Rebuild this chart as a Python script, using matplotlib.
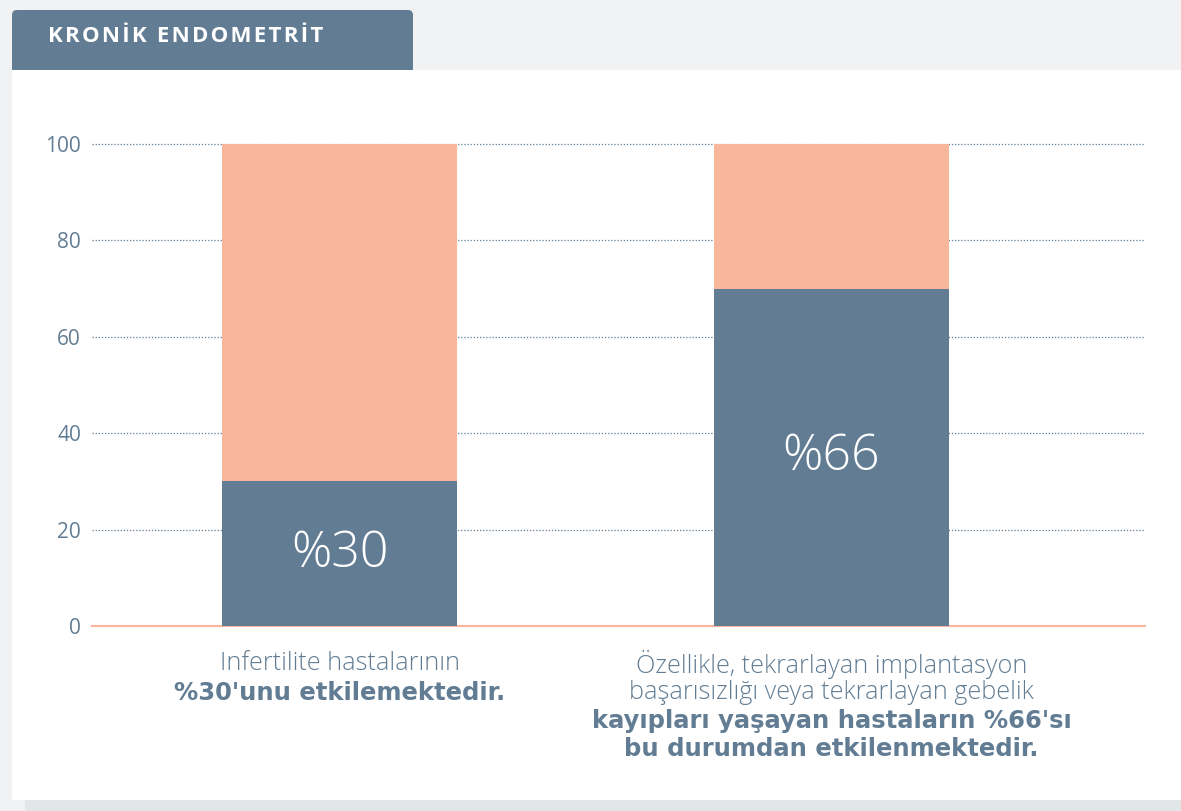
import matplotlib.pyplot as plt
from matplotlib.patches import Rectangle, FancyBboxPatch
from matplotlib.transforms import IdentityTransform

# ==================== DATA ====================
positions = [0, 1]
blue_values = [30, 70]        # drawn height of the blue segment
total_values = [100, 100]     # orange segment reaches 100
bar_labels = ["%30", "%66"]
y_ticks = [0, 20, 40, 60, 80, 100]

caption_light = [["Infertilite hastalarının"],
                 ["Özellikle, tekrarlayan implantasyon",
                  "başarısızlığı veya tekrarlayan gebelik"]]
caption_bold = [["%30'unu etkilemektedir."],
                ["kayıpları yaşayan hastaların %66'sı",
                 "bu durumdan etkilenmektedir."]]
title = "KRONİK ENDOMETRİT"

BLUE = "#627d93"
ORANGE = "#f8b79a"
BG = "#f1f2f4"
# ===============================================

plt.rcParams['font.family'] = ['Open Sans', 'DejaVu Sans']

W, H = 1181, 811
fig = plt.figure(figsize=(W / 100, H / 100), dpi=100, facecolor=BG)

# white panel + bottom strip + title tab (pixel coords, origin bottom-left)
pix = IdentityTransform()
fig.patches.append(Rectangle((12, H - 800), W - 12, 730, transform=pix,
                             facecolor="white", edgecolor="none", zorder=-2))
fig.patches.append(Rectangle((25, 0), W - 25, H - 800, transform=pix,
                             facecolor="#e2e6e6", edgecolor="none", zorder=-2))
fig.patches.append(FancyBboxPatch((12, H - 70), 401, 60, transform=pix,
                                  boxstyle="round,pad=0,rounding_size=5",
                                  facecolor=BLUE, edgecolor="none", zorder=-1))
fig.patches.append(Rectangle((12, H - 70), 401, 20, transform=pix,
                             facecolor=BLUE, edgecolor="none", zorder=-1))
fig.text(48 / W, 1 - 36 / H, "\u200a".join(title), color="white", fontsize=16,
         fontweight="bold", va="center", ha="left")

ax = fig.add_axes([92 / W, (H - 626) / H, (1145 - 92) / W, (626 - 144) / H])
ax.set_zorder(2)
ax.set_facecolor("none")

width = 0.478
ax.bar(positions, total_values, width=width, color=ORANGE, zorder=2)
ax.bar(positions, blue_values, width=width, color=BLUE, zorder=3)

for x, v, lab in zip(positions, blue_values, bar_labels):
    ax.text(x, v / 2, lab, color="white", fontsize=36, fontweight="light",
            ha="center", va="center", zorder=4)

ax.set_xlim(-0.503, 1.637)
ax.set_ylim(0, 100)
ax.set_yticks(y_ticks)
ax.set_yticklabels([str(t) for t in y_ticks], color=BLUE, fontsize=15)
ax.set_xticks([])
ax.tick_params(axis="y", length=0, pad=8)
for t in y_ticks[1:]:
    ax.axhline(t, color=BLUE, linestyle=(0, (1, 1.5)), linewidth=0.9,
               zorder=1, clip_on=False)
ax.axhline(0, color=ORANGE, linewidth=1.5, zorder=1, clip_on=False)
for s in ax.spines.values():
    s.set_visible(False)

# captions under bars, one line each
for x, light, bold in zip(positions, caption_light, caption_bold):
    lines = [(s, "light") for s in light] + [(s, "bold") for s in bold]
    for i, (s, w) in enumerate(lines):
        ax.annotate(s, xy=(x, 0), xycoords="data",
                    xytext=(0, -38 - 28.5 * i), textcoords="offset pixels",
                    ha="center", va="center", color=BLUE,
                    fontsize=18.2 if w == "light" else 17.5,
                    fontweight=w, annotation_clip=False,
                    family=["Open Sans"] if w == "light" else ["DejaVu Sans"])

fig.savefig("out.png", dpi=100, facecolor=BG)
